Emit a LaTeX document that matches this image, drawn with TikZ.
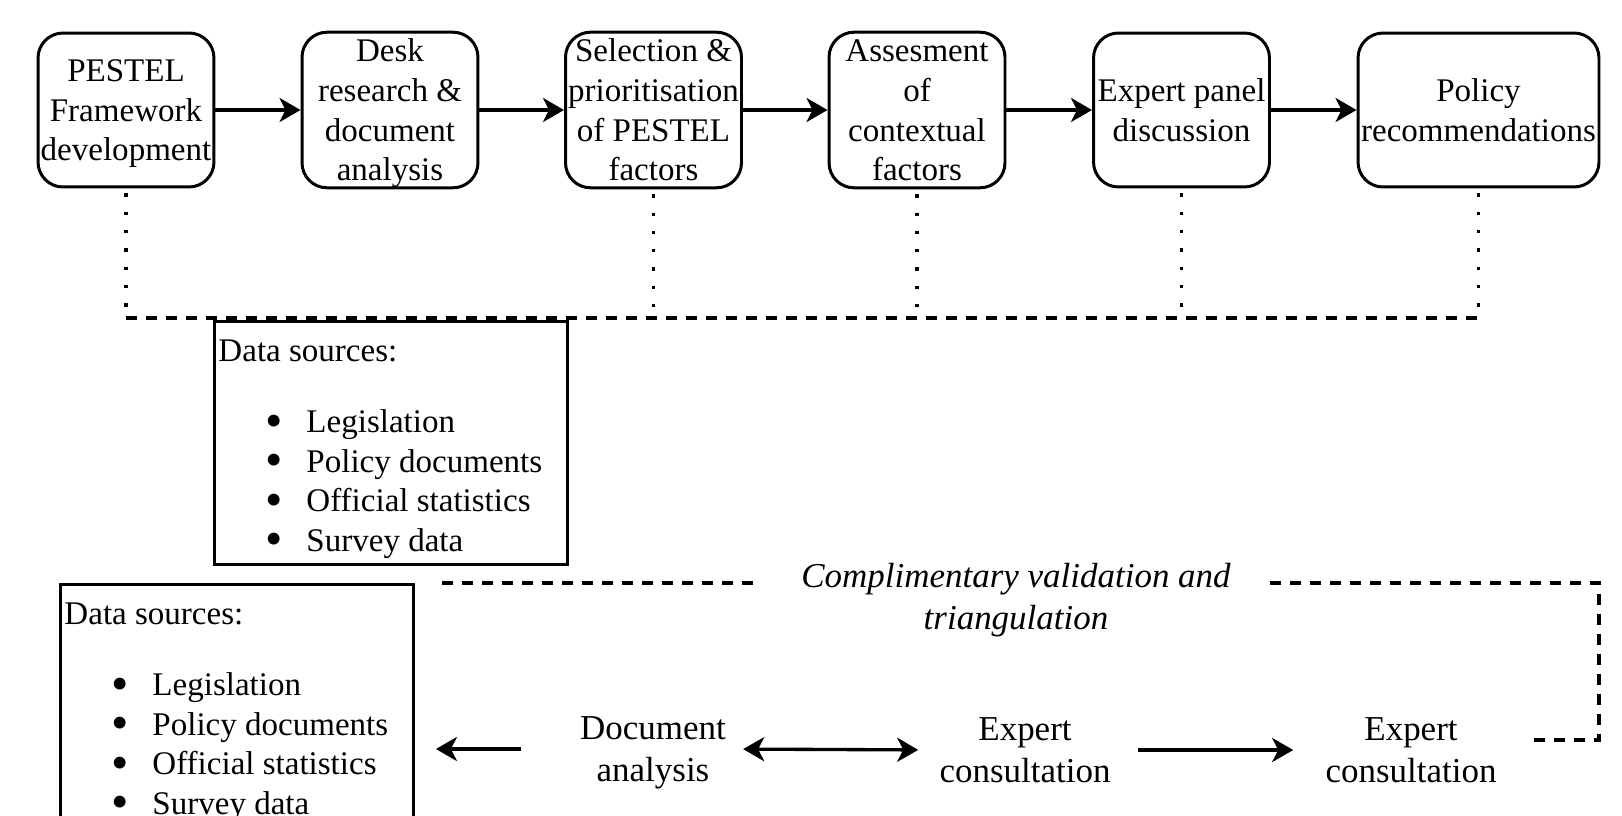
\documentclass[tikz,border=0pt]{standalone}
\usepackage{fontspec}
\setmainfont{Liberation Serif}
\usepackage{tikz}
\usetikzlibrary{arrows.meta}

\newcommand{\boxfont}{\fontsize{18.8}{22.5}\selectfont}
\newcommand{\lowfont}{\fontsize{19.9}{23.8}\selectfont}
% struts so that every text is centred on whole lines
\newcommand{\strtop}{\rule{0pt}{0.9em}}
\newcommand{\strbot}{\rule[-0.22em]{0pt}{0.22em}}
\newcommand{\dsbullet}{\raisebox{-0.14em}{\scalebox{1.5}{\textbullet}}}
\newcommand{\dsitem}[1]{\hspace*{1.02cm}\makebox[0.82cm][l]{\dsbullet}#1}
\newcommand{\datasources}{%
\begin{minipage}[t][4.86cm][t]{7.06cm}%
\boxfont\hspace*{0.08cm}\rule{0pt}{0.8cm}Data sources:\\[0.63cm]%
\dsitem{Legislation}\\%
\dsitem{Policy documents}\\%
\dsitem{Official statistics}\\%
\dsitem{Survey data}%
\end{minipage}}

\begin{document}
\begin{tikzpicture}[x=0.02cm,y=-0.02cm,
                >={Stealth[length=0.42cm,width=0.48cm,inset=0.12cm]},
                stage/.style={draw,rounded corners=0.5cm,line width=1.7pt,minimum width=3.52cm,minimum height=3.08cm,inner sep=0pt,align=center,font=\boxfont},
                srcbox/.style={draw,line width=1.7pt,inner sep=0pt,anchor=north west},
                plain/.style={inner sep=0pt,align=center,font=\lowfont},
                arr/.style={->,line width=1.9pt},
                dotline/.style={line width=1.9pt,dash pattern=on 0.066cm off 0.3cm},
                dashline/.style={line width=1.8pt,dash pattern=on 0.22cm off 0.18cm}]
                \clip (0,0) rectangle (1622,815);

                % stages
                \node (pestel) at (126,110) [stage] {\strtop PESTEL\\Framework\\development\strbot};
                \node (desk) at (390,110) [stage] {\strtop Desk\\research \&\\document\\analysis\strbot};
                \node (select) at (653.5,110) [stage] {\strtop Selection \&\\prioritisation\\of PESTEL\\factors\strbot};
                \node (assess) at (917,110) [stage] {\strtop Assesment\\of\\contextual\\factors\strbot};
                \node (panel) at (1181.5,110) [stage] {\strtop Expert panel\\discussion\strbot};
                \node (policy) at (1478.5,110) [stage,minimum width=4.82cm] {\strtop Policy\\recommendations\strbot};

                \foreach \a/\b in {pestel/desk,desk/select,select/assess,assess/panel,panel/policy}
                    \draw[arr] (\a) -- (\b);

                % links to the data sources
                \coordinate (join) at (126,318);
                \foreach \n in {pestel,select,assess,panel,policy}
                    \draw[dotline] ([yshift=-0.1cm]\n.south) -- (\n.south |- join);
                \draw[dashline] (join) -- (policy.south |- join);

                \node (src1) at (213,320) [srcbox] {\datasources};
                \node (src2) at (59,583) [srcbox] {\datasources};

                % validation loop
                \node (valid) at (1016,597) [plain,font=\lowfont\itshape] {\strtop Complimentary validation and\\triangulation\strbot};
                \node (docan) at (653,749) [plain] {\strtop Document\\analysis\strbot};
                \node (exp1) at (1025,750) [plain] {\strtop Expert\\consultation\strbot};
                \node (exp2) at (1411,750) [plain] {\strtop Expert\\consultation\strbot};

                \draw[arr,shorten <=1.18cm,shorten >=0.42cm] (docan.west) -- (docan.west -| src2.east);
                \draw[arr,<->,shorten <=0.34cm,shorten >=0.42cm] (docan.east) -- (exp1.west);
                \draw[arr,shorten <=0.54cm,shorten >=0.64cm] (exp1.east) -- (exp2.west);

                \coordinate (loopa) at (1534,740);
                \coordinate (loopb) at (1599,583);
                \coordinate (loopc) at (1269,583);
                \coordinate (loopd) at (753,583);
                \coordinate (loope) at (434,583);
                \draw[dashline] (loopa) -| (loopb) -- (loopc);
                \draw[dashline] (loopd) -- (loope);

            \end{tikzpicture}
\end{document}
